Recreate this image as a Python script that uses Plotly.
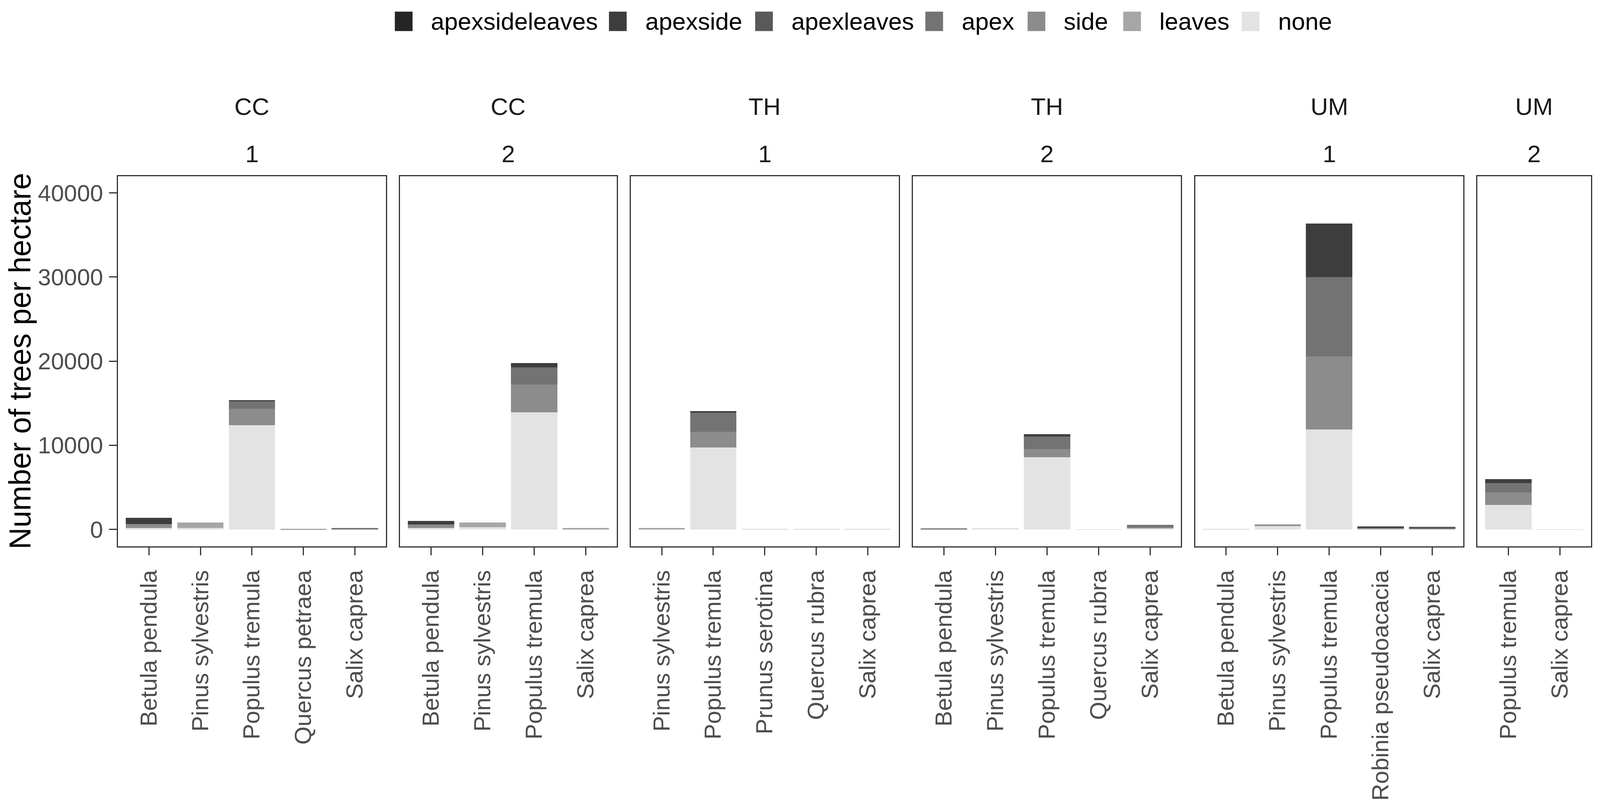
import plotly.graph_objects as go

# reference canvas size, used to turn measured pixel positions into paper fractions
W, H = 4317, 2065
FONT = "Liberation Sans, Arial, sans-serif"

# facet labels (site on top, plot number below)
sites = ["CC", "CC", "TH", "TH", "UM", "UM"]
plot_ids = ["1", "2", "1", "2", "1", "2"]

# species per facet, in the order they appear on the x axes
sp_cc1 = ["Betula pendula", "Pinus sylvestris", "Populus tremula", "Quercus petraea", "Salix caprea"]
sp_cc2 = ["Betula pendula", "Pinus sylvestris", "Populus tremula", "Salix caprea"]
sp_th1 = ["Pinus sylvestris", "Populus tremula", "Prunus serotina", "Quercus rubra", "Salix caprea"]
sp_th2 = ["Betula pendula", "Pinus sylvestris", "Populus tremula", "Quercus rubra", "Salix caprea"]
sp_um1 = ["Betula pendula", "Pinus sylvestris", "Populus tremula", "Robinia pseudoacacia", "Salix caprea"]
sp_um2 = ["Populus tremula", "Salix caprea"]
panel_species = [sp_cc1, sp_cc2, sp_th1, sp_th2, sp_um1, sp_um2]

# trees per hectare by damage class, one value per bar (CC1 | CC2 | TH1 | TH2 | UM1 | UM2)
none = [184, 184, 12380, 0, 0,   165, 255, 13920, 0,   0, 9740, 60, 60, 60,
        0, 160, 8570, 50, 100,   60, 420, 11890, 50, 60,   2900, 50]
leaves = [0, 613, 0, 80, 0,   0, 557, 0, 150,   190, 0, 0, 0, 0,
          0, 0, 0, 0, 0,   0, 0, 0, 0, 0,   0, 0]
side = [428, 0, 1965, 0, 0,   435, 0, 3300, 0,   0, 1875, 0, 0, 0,
        0, 0, 970, 0, 150,   0, 150, 8665, 100, 0,   1500, 0]
apex = [0, 0, 875, 0, 150,   0, 0, 2030, 0,   0, 2270, 0, 0, 0,
        100, 0, 1505, 0, 270,   0, 0, 9455, 0, 60,   1115, 0]
apexleaves = [0, 0, 0, 0, 0,   0, 0, 0, 0,   0, 0, 0, 0, 0,
              0, 0, 0, 0, 0,   0, 0, 0, 0, 180,   0, 0]
apexside = [770, 0, 155, 0, 0,   390, 0, 510, 0,   0, 155, 0, 0, 0,
            0, 0, 290, 0, 0,   0, 0, 6345, 220, 0,   470, 0]
apexsideleaves = [0, 0, 0, 0, 0,   0, 0, 0, 0,   0, 0, 0, 0, 0,
                  0, 0, 0, 0, 0,   0, 0, 0, 0, 0,   0, 0]

y_ticks = [0, 10000, 20000, 30000, 40000]

# stacking order bottom -> top
damage = [
    ("none", none, "#e3e3e3"),
    ("leaves", leaves, "#a6a6a6"),
    ("side", side, "#8c8c8c"),
    ("apex", apex, "#737373"),
    ("apexleaves", apexleaves, "#595959"),
    ("apexside", apexside, "#3d3d3d"),
    ("apexsideleaves", apexsideleaves, "#252525"),
]

# panel geometry (pixels of the reference), widths follow the number of species
left0, unit, gap = 311, 139.6, 38.5
y_top, y_bot = 446, 1400.5
y_dom = [1 - y_bot / H, 1 - y_top / H]

tick_font = dict(family=FONT, size=60, color="#4d4d4d")

fig = go.Figure()
layout = {}
annotations = []
shapes = []

x_left = left0
start = 0
for i, sp in enumerate(panel_species):
    n = len(sp)
    key = "" if i == 0 else str(i + 1)
    x_right = x_left + unit * (n + 0.2)

    for name, vals, col in damage:
        fig.add_trace(go.Bar(
            x=sp, y=vals[start:start + n], name=name,
            marker=dict(color=col, line=dict(width=0)), width=0.9,
            xaxis="x" + key, yaxis="y" + key, showlegend=False,
        ))

    layout["xaxis" + key] = dict(
        domain=[x_left / W, x_right / W], anchor="y" + key,
        type="category", categoryorder="array", categoryarray=sp,
        range=[-0.6, n - 0.4], tickangle=-90,
        ticks="outside", ticklen=20, tickwidth=3, tickcolor="#333333",
        ticklabelstandoff=14,
        showline=True, mirror=True, linecolor="#333333", linewidth=3,
        showgrid=False, zeroline=False, tickfont=tick_font,
    )
    layout["yaxis" + key] = dict(
        domain=y_dom, anchor="x" + key, range=[-2000, 42000],
        tickvals=y_ticks, tickformat="d",
        showticklabels=(i == 0), ticks="outside" if i == 0 else "",
        ticklen=20, tickwidth=3, tickcolor="#333333", ticklabelstandoff=3,
        showline=True, mirror=True, linecolor="#333333", linewidth=3,
        showgrid=False, zeroline=False, tickfont=tick_font,
    )

    xc = (x_left + x_right) / 2 / W
    annotations.append(dict(text=sites[i], x=xc, y=1 - 267 / H, xref="paper", yref="paper",
                            showarrow=False, xanchor="center", yanchor="middle",
                            font=dict(family=FONT, size=62, color="#1a1a1a")))
    annotations.append(dict(text=plot_ids[i], x=xc, y=1 - 389 / H, xref="paper", yref="paper",
                            showarrow=False, xanchor="center", yanchor="middle",
                            font=dict(family=FONT, size=62, color="#1a1a1a")))

    start += n
    x_left = x_right + gap

# y axis title
annotations.append(dict(text="Number of trees per hectare", x=45 / W, y=1 - 923 / H,
                        xref="paper", yref="paper", showarrow=False, textangle=-90,
                        xanchor="center", yanchor="middle",
                        font=dict(family=FONT, size=77, color="#000000")))

# legend on top, drawn by hand so the keys get ggplot-sized swatches
legend_left = [1061, 1641, 2037, 2498, 2775, 3034, 3355]
for (name, _, col), lx in zip(reversed(damage), legend_left):
    shapes.append(dict(type="rect", xref="paper", yref="paper",
                       x0=lx / W, x1=(lx + 48) / W, y0=1 - 72 / H, y1=1 - 22 / H,
                       fillcolor=col, line=dict(width=0)))
    annotations.append(dict(text=name, x=(lx + 96) / W, y=1 - 47 / H,
                            xref="paper", yref="paper", showarrow=False,
                            xanchor="left", yanchor="middle",
                            font=dict(family=FONT, size=62, color="#000000")))

fig.update_layout(
    **layout,
    barmode="stack",
    autosize=True,
    margin=dict(l=0, r=0, t=0, b=0),
    paper_bgcolor="white", plot_bgcolor="white",
    annotations=annotations, shapes=shapes,
    showlegend=False,
    font=dict(family=FONT),
)

# fill the browser window (minus the default 8px body margin on each side)
fig.write_html("out.html", default_width="calc(100vw - 16px)",
               default_height="calc(100vh - 16px)")
